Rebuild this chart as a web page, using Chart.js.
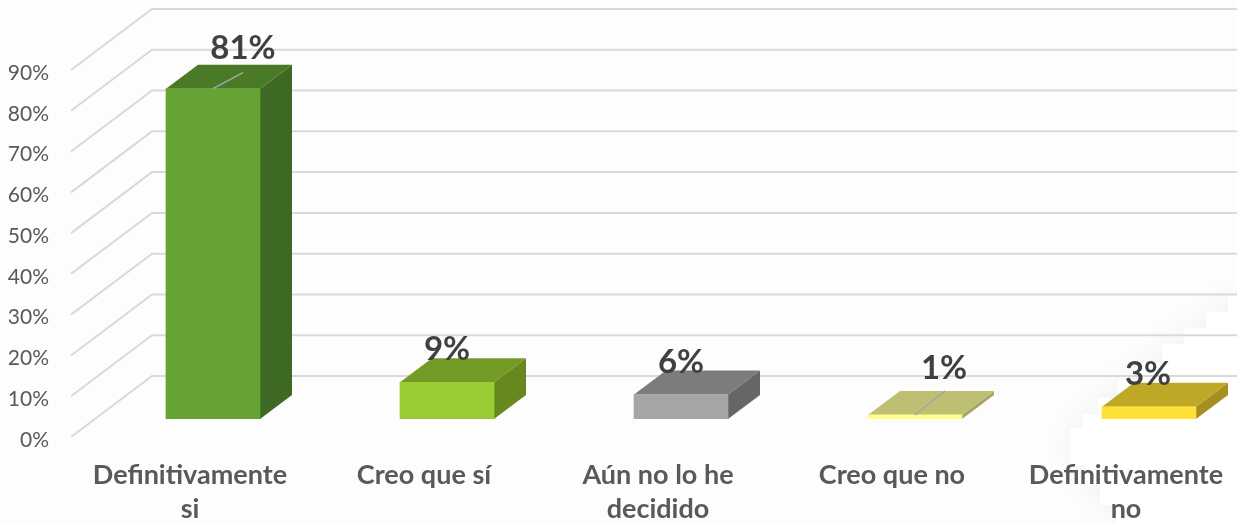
<!DOCTYPE html>
<html><head><meta charset="utf-8">
<style>html,body{margin:0;padding:0;background:#fdfdfd;overflow:hidden}canvas{display:block}</style>
<script src="https://cdn.jsdelivr.net/npm/chart.js@4"></script>
</head><body>
<canvas id="c" width="1250" height="523"></canvas>
<script>
const categories = [["Definitivamente","si"],"Creo que sí",["Aún no lo he","decidido"],"Creo que no",["Definitivamente","no"]];
const values = [81, 9, 6, 1, 3];
const valueLabels = ["81%","9%","6%","1%","3%"];
const frontColors = ["#66a335","#99cc33","#a5a5a5","#ffff88","#ffe135"];
const topColors = ["#4a7a28","#739926","#7c7c7c","#bfbf73","#bfa826"];
const sideColors = ["#3d6922","#66881f","#666666","#a6a660","#a68f20"];
const labelShiftX = [30, 0, 0, 29, -1];
const labelShiftY = [-40, -33, -32, -47, -32];
const leaderRise = [16, 0, 0, 24, 0];

const FRONT = {x: 23, y: -18};   // front plane of the bars relative to the axis plane
const DEPTH = {x: 32, y: -24};   // depth of each bar
const WALL = {x: 81, y: -61};    // back wall relative to the axis plane

function poly(ctx, pts, fill){
  ctx.beginPath();
  pts.forEach((p,i)=> i?ctx.lineTo(p[0],p[1]):ctx.moveTo(p[0],p[1]));
  ctx.closePath(); ctx.fillStyle = fill; ctx.fill();
}

const backdrop = {
  id:'backdrop',
  beforeDraw(chart){
    const ctx = chart.ctx;
    ctx.save();
    ctx.shadowColor = 'rgba(0,0,0,0.05)'; ctx.shadowBlur = 30;
    const pts = [[1250,296],[1228,296],[1228,312],[1206,312],[1206,328],[1184,328],[1184,344],[1162,344],[1162,362],[1140,362],[1140,380],[1118,380],[1118,398],[1098,398],[1098,414],[1083,414],[1083,428],[1070,428],[1070,465],[1085,465],[1085,485],[1100,485],[1100,505],[1115,505],[1115,523],[1250,523]];
    poly(ctx, pts, '#ffffff');
    ctx.restore();
  }
};

const bars3d = {
  id:'bars3d',
  beforeDatasetsDraw(chart){
    const ctx = chart.ctx, ys = chart.scales.y, a = chart.chartArea;
    ctx.save();
    ctx.strokeStyle = '#d9d9d9'; ctx.lineWidth = 2;
    ys.ticks.forEach(t=>{
      const y = ys.getPixelForValue(t.value);
      ctx.beginPath();
      ctx.moveTo(a.left-2, y);
      ctx.lineTo(a.left-2+WALL.x, y+WALL.y);
      ctx.lineTo(chart.width, y+WALL.y);
      ctx.stroke();
    });
    const meta = chart.getDatasetMeta(0);
    meta.data.forEach((b,i)=>{
      const half = b.width/2;
      const l = b.x-half+FRONT.x, r = b.x+half+FRONT.x;
      const t = b.y+FRONT.y, bot = b.base+FRONT.y;
      poly(ctx, [[r,t],[r+DEPTH.x,t+DEPTH.y],[r+DEPTH.x,bot+DEPTH.y],[r,bot]], sideColors[i]);
      poly(ctx, [[l,t],[l+DEPTH.x,t+DEPTH.y],[r+DEPTH.x,t+DEPTH.y],[r,t]], topColors[i]);
    });
    ctx.restore();
  },
  beforeDatasetDraw(chart){
    chart.ctx.save();
    chart.ctx.translate(FRONT.x, FRONT.y);
  },
  afterDatasetDraw(chart){
    chart.ctx.restore();
  },
  afterDatasetsDraw(chart){
    const ctx = chart.ctx;
    const meta = chart.getDatasetMeta(0);
    ctx.save();
    meta.data.forEach((b,i)=>{
      const cx = b.x+FRONT.x, t = b.y+FRONT.y;
      if(leaderRise[i]){
        ctx.strokeStyle = '#a6a6a6'; ctx.lineWidth = 1.5;
        ctx.beginPath();
        ctx.moveTo(cx, t);
        ctx.lineTo(cx+30, t-leaderRise[i]);
        ctx.stroke();
      }
      ctx.fillStyle = '#404040';
      ctx.font = '700 33px Lato';
      ctx.textAlign = 'center'; ctx.textBaseline = 'middle';
      ctx.fillText(valueLabels[i], cx+labelShiftX[i], t+labelShiftY[i]);
    });
    ctx.restore();
  }
};

new Chart(document.getElementById('c'), {
  type:'bar',
  data:{labels:categories, datasets:[{data:values, backgroundColor:frontColors, borderWidth:0, barThickness:94}]},
  options:{
    responsive:false, animation:false,
    layout:{padding:{top:70,right:7,left:0,bottom:0}},
    plugins:{legend:{display:false},tooltip:{enabled:false}},
    scales:{
      y:{min:0,max:90,
        border:{display:false},
        grid:{display:false,drawTicks:false},
        afterFit(s){
          s.width=73;
          if(!s._shifted){
            s._shifted=true;
            const d=s.drawLabels;
            s.drawLabels=function(area){const c=this.ctx;c.save();c.translate(0,3);d.call(this,area);c.restore();};
          }
        },
        ticks:{stepSize:10,padding:24,color:'#595959',font:{family:'Lato',size:21},callback:v=>v+'%'}},
      x:{
        border:{display:false},
        grid:{display:false,drawTicks:false},
        afterFit(s){s.height=86;},
        ticks:{autoSkip:false,maxRotation:0,minRotation:0,padding:21,color:'#595959',font:{family:'Lato',size:27,weight:'700',lineHeight:1.26}}}
    }
  },
  plugins:[backdrop,bars3d]
});
</script>
</body></html>
